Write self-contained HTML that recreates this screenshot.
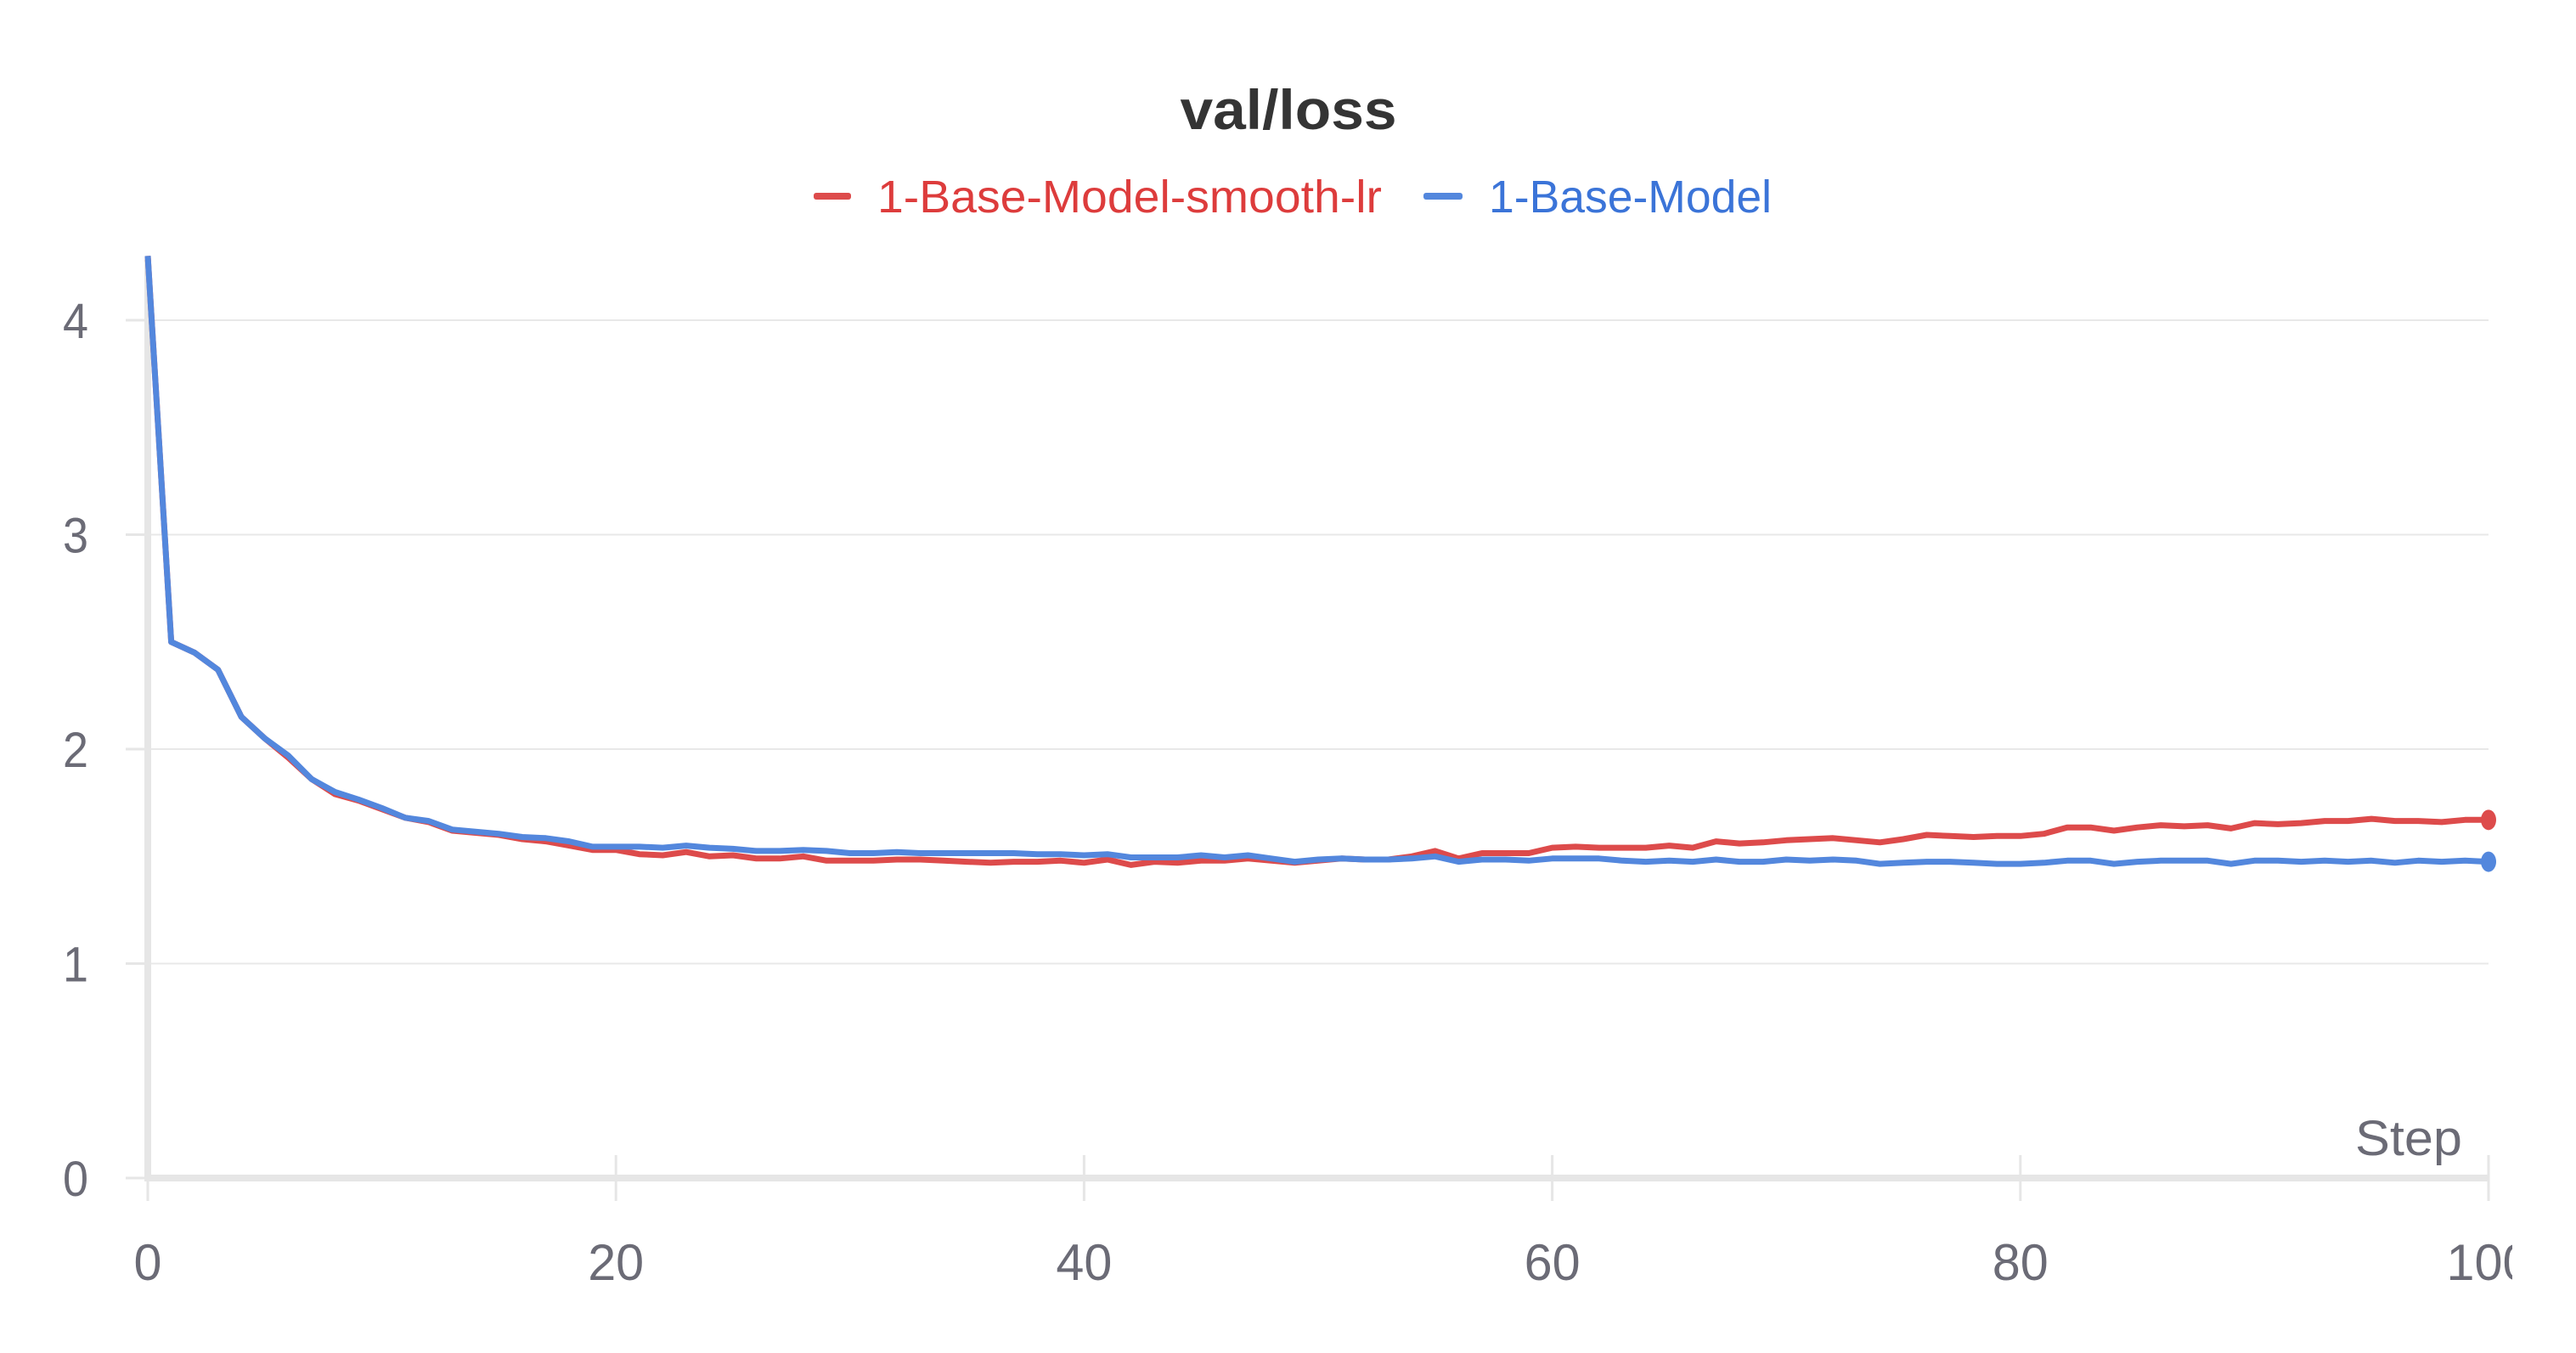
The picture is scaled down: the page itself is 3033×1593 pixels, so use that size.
<!DOCTYPE html>
<html><head><meta charset="utf-8"><style>
html,body{margin:0;padding:0;background:#fff;}
svg{display:block;font-family:"Liberation Sans",sans-serif;}
</style></head><body>
<svg id="chart" width="3033" height="1593" viewBox="0 0 3033 1593">
  <defs><clipPath id="clipR"><rect x="0" y="0" width="2958" height="1593"/></clipPath></defs>
  <text x="1517" y="152" text-anchor="middle" font-size="66" font-weight="bold" fill="#343434" textLength="255" lengthAdjust="spacingAndGlyphs">val/loss</text>
  <g>
    <g>
      <rect x="958" y="227" width="44" height="8" rx="3" fill="#dd4b4b"/>
      <text x="1033" y="250" font-size="54" fill="#dd3c3c" textLength="594" lengthAdjust="spacingAndGlyphs">1-Base-Model-smooth-lr</text>
    </g>
    <g>
      <rect x="1676" y="227" width="46" height="8" rx="3" fill="#5387dd"/>
      <text x="1753" y="250" font-size="54" fill="#3b74d8" textLength="333" lengthAdjust="spacingAndGlyphs">1-Base-Model</text>
    </g>
  </g>
  <g id="grid"></g>
  <g id="axes" clip-path="url(#clipR)"></g>
  <g id="series"></g>
</svg>
<script>
const steps = Array.from({length:101},(_,i)=>i);
const smoothLr = [4.3,2.5,2.45,2.37,2.15,2.05,1.96,1.86,1.79,1.76,1.72,1.68,1.66,1.62,1.61,1.60,1.58,1.57,1.55,1.53,1.53,1.51,1.505,1.52,1.50,1.505,1.49,1.49,1.50,1.48,1.48,1.48,1.485,1.485,1.48,1.475,1.47,1.475,1.475,1.48,1.47,1.485,1.46,1.475,1.47,1.48,1.48,1.49,1.48,1.47,1.48,1.49,1.485,1.485,1.50,1.525,1.49,1.515,1.515,1.515,1.54,1.545,1.54,1.54,1.54,1.55,1.54,1.57,1.56,1.565,1.575,1.58,1.585,1.575,1.565,1.58,1.60,1.595,1.59,1.595,1.595,1.605,1.635,1.635,1.62,1.635,1.645,1.64,1.645,1.63,1.655,1.65,1.655,1.665,1.665,1.675,1.665,1.665,1.66,1.67,1.67];
const baseModel = [4.3,2.5,2.45,2.37,2.15,2.05,1.97,1.86,1.80,1.765,1.725,1.68,1.665,1.625,1.615,1.605,1.59,1.585,1.57,1.545,1.545,1.545,1.54,1.55,1.54,1.535,1.525,1.525,1.53,1.525,1.515,1.515,1.52,1.515,1.515,1.515,1.515,1.515,1.51,1.51,1.505,1.51,1.495,1.495,1.495,1.505,1.495,1.505,1.49,1.475,1.485,1.49,1.485,1.485,1.49,1.50,1.475,1.485,1.485,1.48,1.49,1.49,1.49,1.48,1.475,1.48,1.475,1.485,1.475,1.475,1.485,1.48,1.485,1.48,1.465,1.47,1.475,1.475,1.47,1.465,1.465,1.47,1.48,1.48,1.465,1.475,1.48,1.48,1.48,1.465,1.48,1.48,1.475,1.48,1.475,1.48,1.47,1.48,1.475,1.48,1.475];
const xTicks = [0,20,40,60,80,100];
const yTicks = [0,1,2,3,4];

const NS = "http://www.w3.org/2000/svg";
const X0 = 174, X1 = 2930, Y0 = 1387, YU = 252.5;
const xs = v => X0 + (v - 0) / 100 * (X1 - X0);
const ys = v => Y0 - v * YU;
function mk(tag, attrs, parent){ const e=document.createElementNS(NS,tag); for(const k in attrs) e.setAttribute(k,attrs[k]); parent.appendChild(e); return e; }
const grid=document.getElementById('grid'), axes=document.getElementById('axes'), series=document.getElementById('series');

yTicks.forEach(t=>{
  if(t>0){
    const g = mk('line',{x1:X0,x2:X1,y1:ys(t),y2:ys(t),stroke:'#e8e8e8','stroke-width':2},grid);
    
    
  }
  const tk = mk('line',{x1:X0-26,x2:X0,y1:ys(t),y2:ys(t),stroke:'#e6e6e6','stroke-width':3},axes);
  
  
  const lb = mk('text',{x:89,y:ys(t)+21,'text-anchor':'middle','font-size':58,fill:'#6b6b76',textLength:30,lengthAdjust:'spacingAndGlyphs'},axes);
  lb.textContent = String(t);
  
  
});
const ya = mk('line',{x1:X0,x2:X0,y1:306,y2:Y0+4,stroke:'#e6e6e6','stroke-width':8},axes);


const xa = mk('line',{x1:X0-4,x2:X1,y1:Y0,y2:Y0,stroke:'#e6e6e6','stroke-width':8},axes);


xTicks.forEach(t=>{
  const tk = mk('line',{x1:xs(t),x2:xs(t),y1:Y0-27,y2:Y0+27,stroke:'#e6e6e6','stroke-width':3},axes);
  
  
  const s=String(t);
  const lb = mk('text',{x:xs(t),y:1507,'text-anchor':'middle','font-size':60,fill:'#6b6b76',textLength:33*s.length,lengthAdjust:'spacingAndGlyphs'},axes);
  lb.textContent = s;
  
  
});
const st = mk('text',{x:2899,y:1360,'text-anchor':'end','font-size':58,fill:'#6b6b76',textLength:126,lengthAdjust:'spacingAndGlyphs'},axes);
st.textContent='Step';



function drawSeries(vals,color,name){
  const d = vals.map((v,i)=>(i?'L':'M')+xs(steps[i]).toFixed(1)+','+ys(v).toFixed(1)).join(' ');
  const p = mk('path',{d:d,fill:'none',stroke:color,'stroke-width':7,'stroke-linejoin':'round'},series);
  
  
  const last = vals.length-1;
  const c = mk('ellipse',{cx:xs(steps[last]),cy:ys(vals[last]),rx:9,ry:12,fill:color},series);
  
  
}
drawSeries(smoothLr,'#dd4b4b','smooth-lr');
drawSeries(baseModel,'#5387dd','base-model');
</script>
</body></html>
